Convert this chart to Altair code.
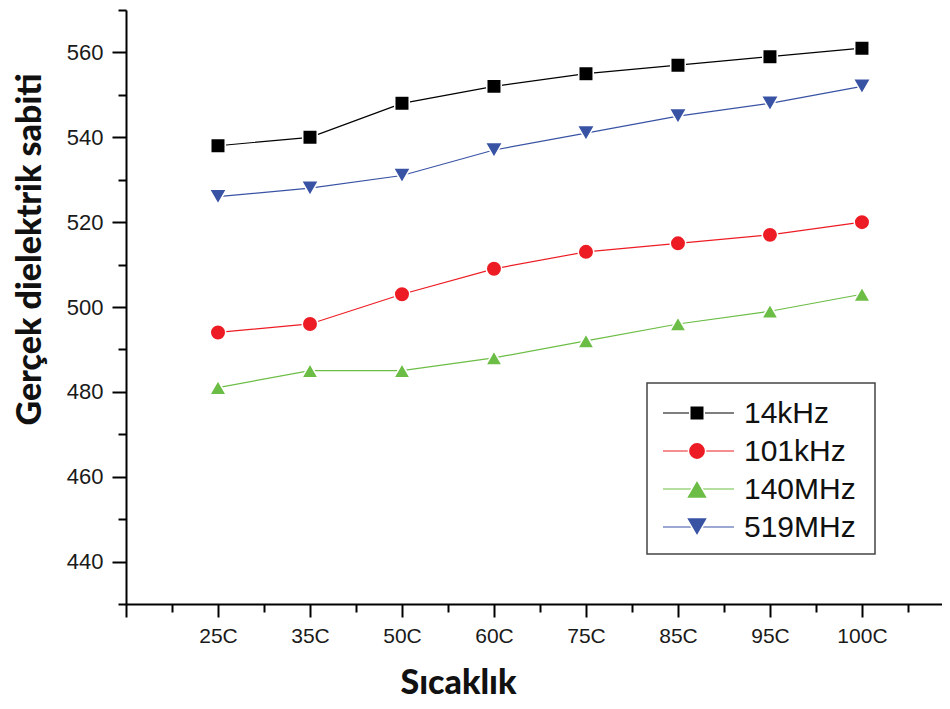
import altair as alt
import pandas as pd

temps = ["25C", "35C", "50C", "60C", "75C", "85C", "95C", "100C"]
series_names = ["14kHz", "101kHz", "140MHz", "519MHz"]
v_14khz = [538, 540, 548, 552, 555, 557, 559, 561]
v_101khz = [494, 496, 503, 509, 513, 515, 517, 520]
v_140mhz = [481, 485, 485, 488, 492, 496, 499, 503]
v_519mhz = [526, 528, 531, 537, 541, 545, 548, 552]
colors = ["#000000", "#ed1c24", "#6cbd45", "#3953a4"]
shapes = ["square", "circle", "triangle-up", "triangle-down"]
sizes = [210, 300, 480, 480]

all_vals = [v_14khz, v_101khz, v_140mhz, v_519mhz]
rows = []
for name, vals in zip(series_names, all_vals):
    for i, v in enumerate(vals):
        rows.append({"series": name, "pos": i + 1, "temp": temps[i], "value": v})
df = pd.DataFrame(rows)

label_arr = "[" + ",".join("'" + t + "'" for t in temps) + "]"
x_axis = alt.Axis(
    values=[k * 0.5 for k in range(0, 18)],
    labelExpr=f"(datum.value % 1 === 0 && datum.value >= 1 && datum.value <= 8) ? {label_arr}[datum.value - 1] : ''",
    tickSize={"condition": {"test": "datum.value % 1 === 0", "value": 13}, "value": 8},
    labelFont="Liberation Sans", labelFontSize=21, labelColor="#1a1a1a", labelPadding=8,
    labelOverlap=False, labelFlush=False, labelBound=False,
    domainColor="black", domainWidth=2, tickColor="black", tickWidth=2, grid=False,
    title="Sıcaklık", titleFont="Lato", titleFontSize=34, titleFontWeight=900,
    titleColor="#111111", titleX=332, titleY=89, titleAlign="center", titleBaseline="alphabetic",
)
y_axis = alt.Axis(
    values=list(range(430, 571, 10)),
    labelExpr="((datum.value - 440) % 20 === 0) ? datum.value : ''",
    tickSize={"condition": {"test": "(datum.value - 440) % 20 === 0", "value": 14}, "value": 8},
    labelFont="Liberation Sans", labelFontSize=22, labelColor="#1a1a1a", labelPadding=9,
    labelOverlap=False, labelFlush=False, labelBound=False,
    domainColor="black", domainWidth=2, tickColor="black", tickWidth=2, grid=False,
    title="Gerçek dielektrik sabiti", titleFont="Lato", titleFontSize=34, titleFontWeight=900,
    titleColor="#111111", titleX=-96, titleY=239, titleAlign="center", titleBaseline="middle",
    titleAngle=270,
)

x_enc = alt.X("pos:Q", scale=alt.Scale(domain=[0, 8.87], nice=False, zero=False), axis=x_axis)
y_enc = alt.Y("value:Q", scale=alt.Scale(domain=[430, 570], nice=False, zero=False), axis=y_axis)
color_enc = alt.Color("series:N", scale=alt.Scale(domain=series_names, range=colors), legend=None)

base = alt.Chart(df)
lines = base.mark_line(strokeWidth=1.2).encode(x=x_enc, y=y_enc, color=color_enc, detail="series:N")
points = base.mark_point(filled=True, opacity=1, stroke="white", strokeWidth=1.5).encode(
    x=x_enc, y=y_enc, color=color_enc,
    shape=alt.Shape("series:N", scale=alt.Scale(domain=series_names, range=shapes), legend=None),
    size=alt.Size("series:N", scale=alt.Scale(domain=series_names, range=sizes), legend=None),
)

one = pd.DataFrame({"a": [0]})
legend_layers = [
    alt.Chart(one).mark_rect(fill="white", stroke="#444444", strokeWidth=1.5).encode(
        x=alt.value(521), x2=alt.value(749), y=alt.value(373), y2=alt.value(544)
    )
]
for i, (name, col, shp, sz) in enumerate(zip(series_names, colors, shapes, sizes)):
    yy = 403 + 38 * i
    legend_layers.append(
        alt.Chart(one).mark_rule(color=col, strokeWidth=1.2).encode(
            x=alt.value(537), x2=alt.value(608), y=alt.value(yy)
        )
    )
    legend_layers.append(
        alt.Chart(one).mark_point(shape=shp, filled=True, color=col, opacity=1, size=sz,
                                  stroke="white", strokeWidth=1.5).encode(
            x=alt.value(571), y=alt.value(yy)
        )
    )
    legend_layers.append(
        alt.Chart(one).mark_text(text=name, align="left", baseline="middle", font="Liberation Sans",
                                 fontSize=30, color="#111111").encode(
            x=alt.value(618), y=alt.value(yy + 1)
        )
    )

chart = alt.layer(lines, points, *legend_layers).properties(
    width=816, height=594,
    autosize=alt.AutoSizeParams(type="none"),
    padding={"left": 118, "top": 2, "right": 0, "bottom": 97},
).configure_view(stroke=None)

chart.save("out.html", embed_options={"renderer": "svg", "actions": False})
